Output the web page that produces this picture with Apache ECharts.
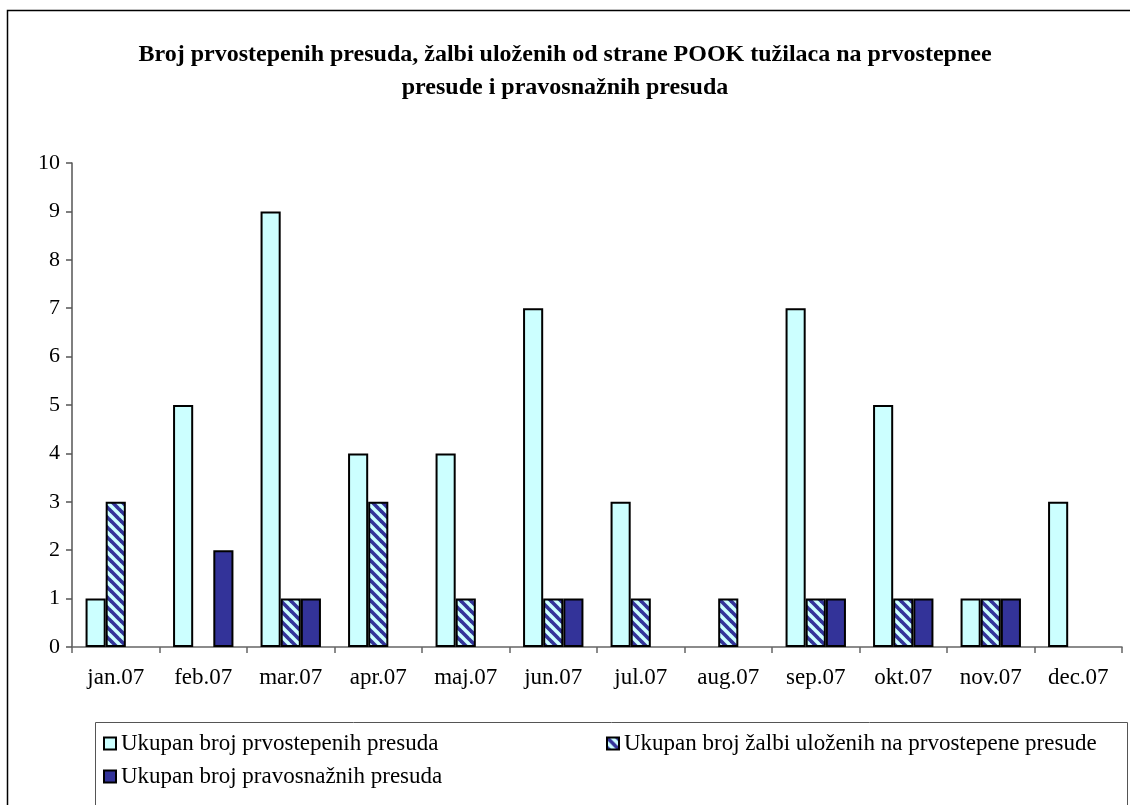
<!DOCTYPE html>
<html>
<head>
<meta charset="utf-8">
<script src="https://cdn.jsdelivr.net/npm/echarts@6/dist/echarts.min.js"></script>
<style>
html,body{margin:0;padding:0;background:#fff;}
#c{width:1130px;height:805px;}
</style>
</head>
<body>
<div id="c"></div>
<script>
const titleLines = ['Broj prvostepenih presuda, žalbi uloženih od strane POOK tužilaca na prvostepnee', 'presude i pravosnažnih presuda'];
const categories = ['jan.07','feb.07','mar.07','apr.07','maj.07','jun.07','jul.07','aug.07','sep.07','okt.07','nov.07','dec.07'];
const seriesNames = ['Ukupan broj prvostepenih presuda','Ukupan broj žalbi uloženih na prvostepene presude','Ukupan broj pravosnažnih presuda'];
const prvostepene = [1,5,9,4,4,7,3,0,7,5,1,3];
const zalbe = [3,0,1,3,1,1,1,1,1,1,1,0];
const pravosnazne = [0,2,1,0,0,1,0,0,1,1,1,0];
const yTicks = [0,1,2,3,4,5,6,7,8,9,10];

const FONT = '"Liberation Serif","Times New Roman",serif';

// hatch pattern
const P = 10;
const pc = document.createElement('canvas');
pc.width = P; pc.height = P;
const g = pc.getContext('2d');
g.fillStyle = '#CCFFFF';
g.fillRect(0,0,P,P);
g.strokeStyle = '#333399';
g.lineWidth = 3.6;
for (const c of [-P,0,P]) {
  g.beginPath(); g.moveTo(-2, c-2); g.lineTo(P+2, c+P+2); g.stroke();
}
const hatch = {image: pc, repeat: 'repeat'};

const nz = a => a.map(v => v === 0 ? null : v);

const titleStyle = {fontFamily: FONT, fontSize: 24, fontWeight: 'bold', color: '#000'};

const chart = echarts.init(document.getElementById('c'));
chart.setOption({
  animation: false,
  backgroundColor: '#fff',
  title: [
    {text: titleLines[0], left: 'center', top: 43, padding: 0, textStyle: titleStyle},
    {text: titleLines[1], left: 'center', top: 76, padding: 0, textStyle: titleStyle}
  ],
  graphic: [
    {type:'rect', shape:{x:7.5,y:10.5,width:1130,height:800}, style:{fill:'none', stroke:'#000', lineWidth:1.5}, silent:true, z:-1},
    {type:'rect', shape:{x:95.5,y:722.5,width:1032,height:90}, style:{fill:'none', stroke:'#555', lineWidth:1}, silent:true, z:-1}
  ],
  legend: [
    {
      data: [seriesNames[0], seriesNames[2]], orient: 'vertical', left: 103, top: 732, padding: 0,
      itemWidth: 12, itemHeight: 12, itemGap: 10, icon: 'rect',
      textStyle: {fontFamily: FONT, fontSize: 23, color: '#000'}
    },
    {
      data: [seriesNames[1]], orient: 'vertical', left: 606, top: 732, padding: 0,
      itemWidth: 12, itemHeight: 12, itemGap: 10, icon: 'rect',
      textStyle: {fontFamily: FONT, fontSize: 23, color: '#000'}
    }
  ],
  grid: {left: 72, right: 8, top: 163, bottom: 158, containLabel: false},
  xAxis: {
    type: 'category', data: categories,
    axisLine: {lineStyle: {color: '#666', width: 1.5}},
    axisTick: {show: true, length: 6, lineStyle: {color: '#666', width: 1.5}},
    axisLabel: {fontFamily: FONT, fontSize: 23, color: '#000', margin: 19}
  },
  yAxis: {
    type: 'value', min: yTicks[0], max: yTicks[yTicks.length-1], interval: 1,
    axisLine: {show: true, lineStyle: {color: '#555', width: 1.5}},
    axisTick: {show: true, length: 6, inside: false, lineStyle: {color: '#555', width: 1.5}},
    splitLine: {show: false},
    axisLabel: {fontFamily: FONT, fontSize: 22, color: '#000', margin: 12}
  },
  series: [
    {name: seriesNames[0], type: 'bar', data: nz(prvostepene), barGap: '0%', barCategoryGap: '31%',
     itemStyle: {color: '#CCFFFF', borderColor: '#000', borderWidth: 2}},
    {name: seriesNames[1], type: 'bar', data: nz(zalbe), barGap: '0%', barCategoryGap: '31%',
     itemStyle: {color: hatch, borderColor: '#000', borderWidth: 2}},
    {name: seriesNames[2], type: 'bar', data: nz(pravosnazne), barGap: '0%', barCategoryGap: '31%',
     itemStyle: {color: '#333399', borderColor: '#000', borderWidth: 2}}
  ]
});
</script>
</body>
</html>
